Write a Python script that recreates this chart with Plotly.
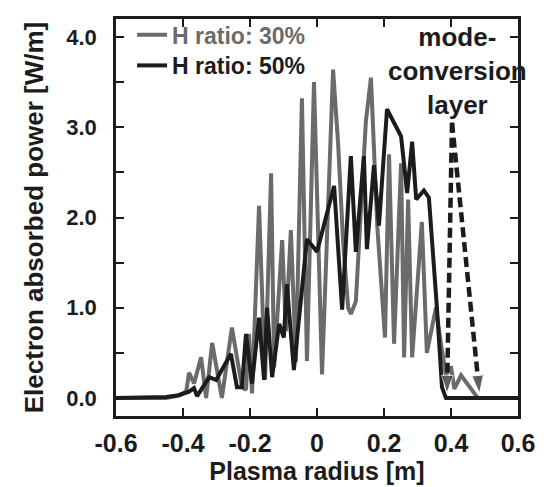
import plotly.graph_objects as go

# ---- data ----
gray_r = [-0.6, -0.45, -0.42, -0.40, -0.39, -0.382, -0.367, -0.346, -0.331, -0.313,
          -0.284, -0.254, -0.224, -0.212, -0.203, -0.194, -0.173, -0.155, -0.137, -0.128,
          -0.104, -0.093, -0.078, -0.063, -0.045, -0.030, -0.009, 0.015, 0.048, 0.063,
          0.078, 0.093, 0.101, 0.116, 0.131, 0.146, 0.161, 0.180, 0.203, 0.215,
          0.230, 0.251, 0.260, 0.272, 0.284, 0.313, 0.328, 0.355, 0.370, 0.385,
          0.40, 0.41, 0.43, 0.45, 0.47, 0.48, 0.6]
gray_p = [0.0, 0.0, 0.02, 0.05, 0.08, 0.28, 0.16, 0.45, 0.0, 0.61,
          0.0, 0.78, 0.12, 0.09, 0.71, 0.05, 2.13, 0.2, 2.49, 0.34,
          1.75, 0.74, 1.86, 0.4, 3.32, 0.41, 3.5, 0.26, 3.64, 2.82,
          1.73, 1.0, 0.93, 1.07, 2.09, 3.07, 3.55, 1.9, 0.67, 2.7,
          0.6, 2.6, 0.45, 2.2, 0.45, 1.95, 0.5, 1.0, 0.6, 0.25,
          0.35, 0.1, 0.25, 0.15, 0.05, 0.0, 0.0]

black_r = [-0.6, -0.45, -0.412, -0.382, -0.367, -0.358, -0.322, -0.301, -0.257, -0.239,
           -0.224, -0.212, -0.194, -0.173, -0.158, -0.149, -0.134, -0.113, -0.099, -0.090,
           -0.069, -0.030, 0.0, 0.051, 0.075, 0.101, 0.116, 0.140, 0.149, 0.170,
           0.185, 0.209, 0.251, 0.269, 0.284, 0.296, 0.319, 0.334, 0.358, 0.373,
           0.385, 0.6]
black_p = [0.0, 0.01, 0.03, 0.07, 0.11, 0.02, 0.23, 0.2, 0.49, 0.12,
           0.12, 0.71, 0.16, 0.89, 0.2, 1.0, 0.23, 0.82, 0.67, 1.26,
           0.31, 1.76, 1.62, 2.35, 0.98, 2.68, 1.62, 2.68, 1.65, 2.58,
           1.91, 3.2, 2.9, 2.27, 2.84, 2.2, 2.3, 2.22, 1.0, 0.12,
           0.0, 0.0]

series_names = ["H ratio: 30%", "H ratio: 50%"]

x_ticks = [-0.6, -0.4, -0.2, 0, 0.2, 0.4, 0.6]
x_ticktext = ["-0.6", "-0.4", "-0.2", "0", "0.2", "0.4", "0.6"]
y_ticks = [0, 0.5, 1, 1.5, 2, 2.5, 3, 3.5, 4]
y_ticktext = ["0.0", "", "1.0", "", "2.0", "", "3.0", "", "4.0"]

arrow_start = (0.403, 3.05)
arrow_tips_r = [0.388, 0.485]
arrow_tips_p = [0.05, 0.05]
annot_text = "mode-<br>conversion<br>layer"
annot_pos = (0.42, 3.62)

GRAY = "#6b6b6b"
BLACK = "#1c1c1c"
FONT = "Liberation Sans"

fig = go.Figure()
fig.add_trace(go.Scatter(x=gray_r, y=gray_p, mode="lines",
                         line=dict(color=GRAY, width=4),
                         name=f"<span style='color:{GRAY}'>{series_names[0]}</span>",
                         legend="legend"))
fig.add_trace(go.Scatter(x=black_r, y=black_p, mode="lines",
                         line=dict(color=BLACK, width=4),
                         name=series_names[1], legend="legend2"))

for tr, tp in zip(arrow_tips_r, arrow_tips_p):
    fig.add_trace(go.Scatter(x=[arrow_start[0], tr], y=[arrow_start[1], tp],
                             mode="lines+markers",
                             line=dict(color=BLACK, width=4.5, dash="10px,5px"),
                             marker=dict(symbol=["circle", "arrow"], size=[0, 19],
                                         angleref="previous", color=BLACK),
                             showlegend=False, hoverinfo="skip"))

fig.add_annotation(x=annot_pos[0], y=annot_pos[1], text=annot_text, showarrow=False,
                   font=dict(family=FONT, size=26, color=BLACK, weight="bold"),
                   align="center")

axis_common = dict(showline=True, linecolor=BLACK, linewidth=2.5, mirror="ticks",
                   ticks="inside", ticklen=8, tickwidth=2, tickcolor=BLACK,
                   showgrid=False, zeroline=False, automargin=False)

fig.update_xaxes(range=[-0.6, 0.6], tickvals=x_ticks, ticktext=x_ticktext,
                 ticklabelstandoff=3,
                 tickfont=dict(family=FONT, size=25, color=BLACK, weight="bold"),
                 title=dict(text="Plasma radius [m]", standoff=6,
                            font=dict(family=FONT, size=25, color=BLACK, weight="bold")),
                 **axis_common)
fig.update_yaxes(range=[-0.2, 4.2], tickvals=y_ticks, ticktext=y_ticktext,
                 ticklabelstandoff=12,
                 tickfont=dict(family=FONT, size=22, color=BLACK, weight="bold"),
                 title=dict(text="Electron absorbed power [W/m]", standoff=16,
                            font=dict(family=FONT, size=26, color=BLACK, weight="bold")),
                 **axis_common)

legend_common = dict(xanchor="left", yanchor="middle", bgcolor="rgba(0,0,0,0)",
                     font=dict(family=FONT, size=23, color=BLACK, weight="bold"),
                     itemwidth=30)
# page body has an 8px default margin, so the figure is 8px smaller than the window
fig.update_layout(width=538, height=479,
                  margin=dict(l=108, r=28, t=5, b=71),
                  plot_bgcolor="white", paper_bgcolor="white",
                  legend=dict(x=0.04, y=0.96, **legend_common),
                  legend2=dict(x=0.04, y=0.883, **legend_common),
                  showlegend=True)

fig.write_html("out.html")
